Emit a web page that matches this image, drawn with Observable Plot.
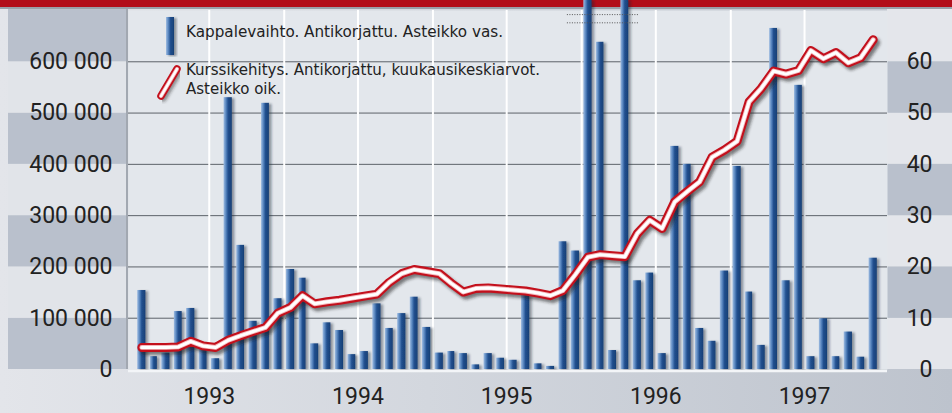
<!DOCTYPE html>
<html><head><meta charset="utf-8">
<script src="https://cdn.jsdelivr.net/npm/d3@7"></script>
<script src="https://cdn.jsdelivr.net/npm/@observablehq/plot@0.6"></script>
<style>
html,body{margin:0;padding:0;background:#e3e6eb;}
#chart{position:relative;width:952px;height:413px;overflow:hidden;
  background:linear-gradient(to right,#e3e5ea 0%,#d3d7de 45%,#bdc3cd 100%);}
#chart svg{display:block;overflow:visible;}
</style></head><body>
<svg width="0" height="0" style="position:absolute">
  <defs>
    <linearGradient id="barGrad" x1="0" y1="0" x2="1" y2="0">
      <stop offset="0" stop-color="#9fbde2"/>
      <stop offset="0.3" stop-color="#5684be"/>
      <stop offset="0.55" stop-color="#22508f"/>
      <stop offset="1" stop-color="#173f75"/>
    </linearGradient>
    <filter id="barShadow" x="-50%" y="-5%" width="200%" height="110%">
      <feDropShadow dx="2.5" dy="1" stdDeviation="1.3" flood-color="#1b2636" flood-opacity="0.45"/>
    </filter>
    <filter id="lineShadow" x="-5%" y="-20%" width="110%" height="140%">
      <feGaussianBlur stdDeviation="1.6"/>
    </filter>
  </defs>
</svg>
<div id="chart"></div>
<script>
// ---- data ----
const years = [1993, 1994, 1995, 1996, 1997];
// Kappalevaihto (monthly trading volume, pieces), left scale
const volume1993 = [154000, 25000, 32000, 113000, 119000, 38000, 21000, 530000, 242000, 94000, 519000, 138000];
const volume1994 = [195000, 178000, 50000, 91000, 76000, 29000, 35000, 128000, 80000, 109000, 141000, 82000];
const volume1995 = [32000, 35000, 31000, 9000, 31000, 22000, 18000, 144000, 11000, 6000, 249000, 231000];
const volume1996 = [720000, 638000, 37000, 720000, 173000, 188000, 31000, 435000, 400000, 80000, 55000, 192000];
const volume1997 = [396000, 151000, 47000, 665000, 173000, 554000, 25000, 99000, 25000, 73000, 24000, 217000];
// Kurssikehitys (monthly average price), right scale
const price1993 = [4.3, 4.3, 4.3, 4.4, 5.5, 4.6, 4.3, 5.7, 6.6, 7.4, 8.2, 11.0];
const price1994 = [12.1, 14.4, 12.8, 13.2, 13.5, 13.9, 14.3, 14.7, 17.0, 18.7, 19.5, 19.1];
const price1995 = [18.7, 16.8, 15.1, 15.8, 15.9, 15.7, 15.5, 15.3, 14.9, 14.4, 15.4, 18.5];
const price1996 = [21.9, 22.4, 22.2, 22.0, 26.5, 29.1, 27.5, 32.7, 34.7, 36.6, 41.4, 42.8];
const price1997 = [44.5, 52.2, 54.8, 58.2, 57.6, 58.3, 62.2, 60.6, 61.8, 59.8, 60.8, 64.3];
const leftTicks = [0, 100000, 200000, 300000, 400000, 500000, 600000];
const rightTickLabels = ["0", "10", "20", "30", "40", "50", "60"];
const legendLabels = ["Kappalevaihto. Antikorjattu. Asteikko vas.",
  "Kurssikehitys. Antikorjattu, kuukausikeskiarvot.", "Asteikko oik."];
const brokenLevels = [692000, 676000]; // dotted axis-break marks
const yMax = 700000;
const priceFactor = 10000; // right scale 60 = left scale 600 000

// ---- build table ----
const volumes = [volume1993, volume1994, volume1995, volume1996, volume1997].flat();
const prices = [price1993, price1994, price1995, price1996, price1997].flat();
const data = [];
years.forEach((yr, yi) => {
  for (let m = 0; m < 12; m++) {
    const i = yi * 12 + m;
    const start = new Date(Date.UTC(yr, m, 1));
    const end = new Date(Date.UTC(yr, m + 1, 1));
    data.push({date: start, end, mid: new Date((+start + +end) / 2), volume: volumes[i], price: prices[i]});
  }
});
const yearMids = years.map(y => new Date(Date.UTC(y, 6, 1)));
const halfYears = [];
years.forEach((y, i) => { if (i > 0) halfYears.push(new Date(Date.UTC(y, 0, 1))); halfYears.push(new Date(Date.UTC(y, 6, 1))); });
const brokenRows = data.filter(d => d.volume >= yMax);
const breakX1 = d3.utcDay.offset(brokenRows[0].date, -35);
const breakX2 = d3.utcDay.offset(brokenRows[brokenRows.length - 1].date, 50);
const grid = leftTicks.filter(v => v > 0);

const fmt = d3.formatLocale({thousands: " ", grouping: [3], decimal: ","}).format(",d");
const lineOpts = {x: "mid", y: d => d.price * priceFactor, curve: "linear", strokeLinejoin: "round", strokeLinecap: "round"};

const plot = Plot.plot({
  width: 952, height: 413,
  marginLeft: 128, marginRight: 65, marginTop: 10, marginBottom: 44,
  style: {background: "transparent", fontFamily: "Roboto, 'Noto Sans', sans-serif", color: "#222", overflow: "visible"},
  x: {type: "utc", domain: [new Date(Date.UTC(1993, 0, 1)), new Date(Date.UTC(1998, 0, 1))], insetLeft: 7, insetRight: 8, axis: null},
  y: {domain: [0, yMax], axis: null},
  marks: [
    Plot.frame({fill: "#e3e7ec", stroke: null}),
    Plot.ruleY(grid, {stroke: "#5d6269", strokeWidth: 1}),
    Plot.ruleX(halfYears, {stroke: "#ffffff", strokeWidth: 2}),
    Plot.rectY(data, {x1: "date", x2: "end", y: "volume", fill: "url(#barGrad)", insetLeft: 2.2, insetRight: 2.2, ariaDescription: "bars"}),
    Plot.ruleY([0], {stroke: "#f3f5f8", strokeWidth: 2.5, dy: 1.5}),
    Plot.ruleY(brokenLevels, {x1: breakX1, x2: breakX2, stroke: "#555", strokeWidth: 1, strokeDasharray: "1,1.5"}),
    Plot.line(data, {...lineOpts, stroke: "#1c1c1c", strokeOpacity: 0.55, strokeWidth: 9, dx: 2.5, dy: 3, ariaDescription: "lineShadow"}),
    Plot.line(data, {...lineOpts, stroke: "#c3101c", strokeWidth: 9}),
    Plot.line(data, {...lineOpts, stroke: "#f4b8bc", strokeWidth: 4.8}),
    Plot.line(data, {...lineOpts, stroke: "#ffffff", strokeWidth: 3}),
    Plot.axisY({anchor: "left", label: null, ticks: leftTicks, tickSize: 0, tickPadding: 16, tickFormat: fmt, fontSize: 23}),
    Plot.axisY({anchor: "right", label: null, ticks: leftTicks, tickSize: 0, tickPadding: 45, textAnchor: "end", tickFormat: d => rightTickLabels[leftTicks.indexOf(d)], fontSize: 23}),
    Plot.axisX({label: null, ticks: yearMids, tickSize: 0, tickPadding: 18, tickFormat: d3.utcFormat("%Y"), fontSize: 23})
  ]
});
document.getElementById("chart").appendChild(plot);

// ---- decorations using the plot's own scales ----
const svg = d3.select(plot);
const ys = plot.scale("y");
const W = 952;
const frameL = 128, frameR = W - 65;
const bg = svg.insert("g", ":first-child");
const bandVals = d3.range(0, yMax, 100000);
bandVals.forEach((v, i) => {
  const yTop = i === bandVals.length - 1 ? 7 : ys.apply(v + 100000);
  const yBot = ys.apply(v);
  bg.append("rect").attr("x", 8).attr("width", frameL - 8).attr("y", yTop).attr("height", yBot - yTop)
    .attr("fill", i % 2 === 0 ? "#b9c0cc" : "#e1e4e9");
  bg.append("rect").attr("x", frameR).attr("width", W - frameR).attr("y", yTop).attr("height", yBot - yTop)
    .attr("fill", i % 2 === 1 ? "#b9c0cc" : "#e4e6eb");
});
bg.append("rect").attr("x", 0).attr("y", 0).attr("width", W).attr("height", 7).attr("fill", "#b20d19");
bg.append("rect").attr("x", 0).attr("y", 7).attr("width", W).attr("height", 2).attr("fill", "#9aa0a9");
bg.append("rect").attr("x", frameL - 2).attr("y", 9).attr("width", 2).attr("height", ys.apply(0) - 9).attr("fill", "#a2a8b1");

svg.select('g[aria-description="bars"]').attr("filter", "url(#barShadow)");
svg.select('g[aria-description="lineShadow"]').attr("filter", "url(#lineShadow)");

// legend inside the plot area
const leg = svg.append("g").attr("font-family", "'DejaVu Sans Condensed', 'DejaVu Sans', sans-serif")
  .attr("font-size", 15.5).attr("fill", "#222").attr("text-anchor", "start");
leg.append("rect").attr("x", 166).attr("y", 17).attr("width", 8).attr("height", 38).attr("fill", "url(#barGrad)").attr("filter", "url(#barShadow)");
const legLine = [[161, 96], [177, 69]];
leg.append("line").attr("x1", legLine[0][0] + 2).attr("y1", legLine[0][1] + 2).attr("x2", legLine[1][0] + 2).attr("y2", legLine[1][1] + 2)
  .attr("stroke", "#222").attr("stroke-opacity", 0.45).attr("stroke-width", 7.5).attr("stroke-linecap", "round").attr("filter", "url(#lineShadow)");
[["#c3101c", 7.5], ["#f4b8bc", 4], ["#ffffff", 2.4]].forEach(([c, w]) => {
  leg.append("line").attr("x1", legLine[0][0]).attr("y1", legLine[0][1]).attr("x2", legLine[1][0]).attr("y2", legLine[1][1])
    .attr("stroke", c).attr("stroke-width", w).attr("stroke-linecap", "round");
});
const legPos = [[186, 37, 317], [186, 75, 354], [186, 94, 95]];
legendLabels.forEach((t, i) => {
  leg.append("text").attr("x", legPos[i][0]).attr("y", legPos[i][1]).attr("textLength", legPos[i][2])
    .attr("lengthAdjust", "spacingAndGlyphs").attr("text-anchor", "start").text(t);
});
</script>
</body></html>
